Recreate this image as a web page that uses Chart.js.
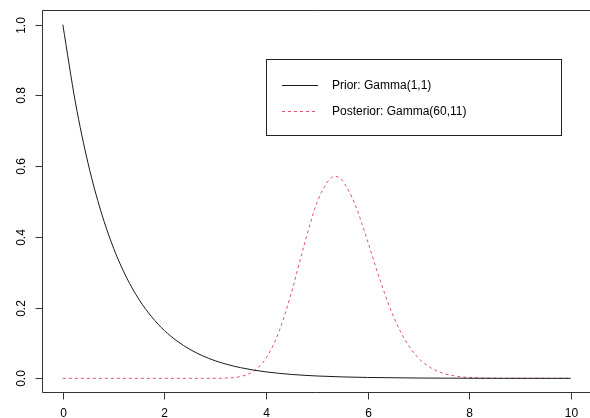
<!DOCTYPE html>
<html>
<head>
<meta charset="utf-8">
<script src="https://cdn.jsdelivr.net/npm/chart.js@4.4.1/dist/chart.umd.min.js"></script>
<style>
html,body{margin:0;padding:0;background:#fff;}
canvas{display:block;}
</style>
</head>
<body>
<canvas id="c" width="590" height="418"></canvas>
<script>
// ---- data ----
const priorX = [0,0.25,0.5,0.75,1,1.25,1.5,1.75,2,2.25,2.5,2.75,3,3.25,3.5,3.75,4,4.5,5,5.5,6,7,8,9,10];
const priorY = [1,0.7788,0.6065,0.4724,0.3679,0.2865,0.2231,0.1738,0.1353,0.1054,0.0821,0.0639,0.0498,0.0388,0.0302,0.0235,0.0183,0.0111,0.0067,0.0041,0.0025,0.0009,0.0003,0.0001,0.00005];
const postX = [0,2.5,2.75,3,3.25,3.5,3.75,4,4.25,4.5,4.75,5,5.25,5.375,5.5,5.75,6,6.25,6.5,6.75,7,7.25,7.5,7.75,8,8.5,9,10];
const postY = [0,0.000004,0.000013,0.00014,0.00104,0.00526,0.0197,0.0568,0.1298,0.2418,0.3755,0.4950,0.5629,0.5708,0.5599,0.4930,0.3882,0.2759,0.1784,0.1057,0.0578,0.0293,0.0138,0.0061,0.0025,0.00037,0.00004,0];
const xTicks = [0,2,4,6,8,10];
const yTicks = [0,0.2,0.4,0.6,0.8,1.0];
const yTickLabels = ["0.0","0.2","0.4","0.6","0.8","1.0"];
const seriesLabels = ["Prior: Gamma(1,1)","Posterior: Gamma(60,11)"];
const seriesColors = ["#1a1a1a","#DF536B"];

const FONT = '12px "Liberation Sans", Arial, sans-serif';

const axesPlugin = {
  id: 'rAxes',
  afterDraw(chart) {
    const ctx = chart.ctx;
    const xs = chart.scales.x, ys = chart.scales.y;
    const L = 42.5, T = 10.5, B = 392.5;
    ctx.save();
    ctx.strokeStyle = '#333';
    ctx.lineWidth = 1;
    ctx.beginPath();
    ctx.moveTo(600, T); ctx.lineTo(L, T); ctx.lineTo(L, B); ctx.lineTo(600, B);
    ctx.stroke();
    ctx.fillStyle = '#000';
    ctx.font = FONT;
    // x ticks
    ctx.textAlign = 'center';
    ctx.textBaseline = 'middle';
    xTicks.forEach(v => {
      const px = Math.round(xs.getPixelForValue(v)) + 0.5;
      ctx.beginPath(); ctx.moveTo(px, B); ctx.lineTo(px, B + 7); ctx.stroke();
      ctx.fillText(String(v), px, B + 21);
    });
    // y ticks
    yTicks.forEach((v, i) => {
      const py = Math.round(ys.getPixelForValue(v)) + 0.5;
      ctx.beginPath(); ctx.moveTo(L, py); ctx.lineTo(L - 7, py); ctx.stroke();
      ctx.save();
      ctx.translate(L - 21, py);
      ctx.rotate(-Math.PI / 2);
      ctx.fillText(yTickLabels[i], 0, 0);
      ctx.restore();
    });
    // legend
    const lx = 266.5, ly = 59.5, lw = 295, lh = 76;
    ctx.strokeStyle = '#222';
    ctx.strokeRect(lx, ly, lw, lh);
    const rows = [85.5, 111.5];
    rows.forEach((ry, i) => {
      ctx.strokeStyle = seriesColors[i];
      ctx.setLineDash(i === 1 ? [3, 3] : []);
      ctx.beginPath(); ctx.moveTo(282, ry); ctx.lineTo(318, ry); ctx.stroke();
      ctx.setLineDash([]);
      ctx.textAlign = 'left';
      ctx.fillStyle = '#000';
      ctx.fillText(seriesLabels[i], 332, ry);
    });
    ctx.restore();
  }
};

new Chart(document.getElementById('c'), {
  type: 'line',
  data: {
    datasets: [
      {
        label: seriesLabels[0],
        data: priorX.map((x, i) => ({x, y: priorY[i]})),
        borderColor: seriesColors[0],
        borderWidth: 1,
        pointRadius: 0,
        cubicInterpolationMode: 'monotone',
        fill: false
      },
      {
        label: seriesLabels[1],
        data: postX.map((x, i) => ({x, y: postY[i]})),
        borderColor: seriesColors[1],
        borderWidth: 1,
        borderDash: [3, 3],
        pointRadius: 0,
        cubicInterpolationMode: 'monotone',
        fill: false
      }
    ]
  },
  options: {
    responsive: false,
    animation: false,
    devicePixelRatio: 1,
    layout: { padding: { left: 42.5, top: 10.5, right: 0, bottom: 25.5 } },
    plugins: { legend: { display: false }, tooltip: { enabled: false } },
    scales: {
      x: { type: 'linear', display: false, min: -0.4, max: 10.38 },
      y: { type: 'linear', display: false, min: -0.04, max: 1.04 }
    }
  },
  plugins: [axesPlugin]
});
</script>
</body>
</html>
